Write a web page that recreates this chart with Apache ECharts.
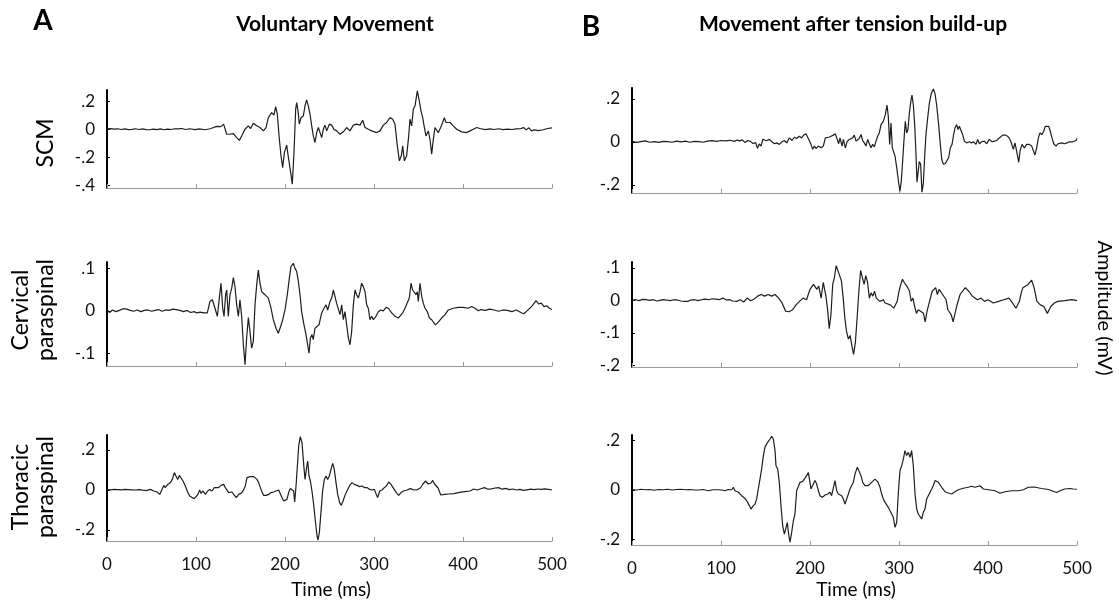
<!DOCTYPE html>
<html>
<head>
<meta charset="utf-8">
<script src="https://cdn.jsdelivr.net/npm/echarts@6/dist/echarts.min.js"></script>
<style>
html,body{margin:0;padding:0;background:#fff;}
#chart{width:1119px;height:606px;}
</style>
</head>
<body>
<div id="chart"></div>
<script>
// ---- data (time in ms, amplitude in mV) ----
const timeTicks = [0, 100, 200, 300, 400, 500];
const panelLetters = ['A', 'B'];
const panelTitles = ['Voluntary Movement', 'Movement after tension build-up'];
const rowNames = ['SCM', 'Cervical\nparaspinal', 'Thoracic\nparaspinal'];
const yTickValuesA = [[0.2, 0, -0.2, -0.4], [0.1, 0, -0.1], [0.2, 0, -0.2]];
const yTickValuesB = [[0.2, 0, -0.2], [0.1, 0, -0.1, -0.2], [0.2, 0, -0.2]];
const xName = 'Time (ms)';
const yName = 'Amplitude (mV)';

const scmVoluntary = [[0,0.002],[4,0.004],[8,0],[12,0.003],[16,-0.002],[20,0.002],[24,-0.003],[28,-0.001],[32,0.003],[36,-0.002],[40,0.002],[44,-0.003],[48,-0.004],[52,0.001],[56,-0.003],[60,0.002],[64,-0.004],[68,0.001],[72,-0.002],[76,0.003],[80,0.002],[84,0.005],[88,-0.002],[93,0.003],[99,-0.003],[104,0.002],[110,-0.004],[116,0.003],[118,0.012],[123,0.02],[128,0.018],[131,0.036],[134.5,-0.036],[138,-0.036],[142,-0.031],[145.7,-0.06],[148.7,-0.08],[151.3,-0.048],[155,0],[158.8,0.024],[161.4,0.005],[164.4,0.043],[168.2,0.024],[171.9,0.012],[175.7,-0.012],[178.7,0.012],[181.3,0.083],[185,0.119],[187.6,0.1],[189.5,0.162],[191.4,0.107],[193.3,-0.048],[195.5,-0.19],[197.4,-0.274],[199.3,-0.167],[201.9,-0.114],[204.1,-0.214],[206.4,-0.31],[208.2,-0.393],[210.1,-0.167],[212,0.143],[213.1,0.19],[214.6,0.131],[216.1,0.036],[218,0.083],[220.6,0.095],[222.5,0.167],[224.3,0.209],[226.2,0.167],[228.1,0.107],[230,0.024],[231.8,-0.048],[233.7,-0.095],[235.6,-0.024],[237.5,0.012],[239.3,0.024],[241.2,-0.06],[243.1,0],[244.9,0.029],[246.8,-0.012],[249.8,0.036],[252.4,0.029],[255,0],[258,-0.012],[261.8,-0.036],[265.5,-0.019],[269.3,0.012],[273,-0.012],[276.8,0.029],[280.5,0.036],[284.3,0.029],[287.3,0.064],[289.9,0.012],[293.6,0],[297.4,-0.012],[303,-0.024],[306.7,-0.012],[310.5,0.029],[314.2,0.048],[318,0.083],[321,0.071],[323.6,0.036],[326.2,-0.119],[328.5,-0.226],[330.7,-0.19],[332.2,-0.119],[334.1,-0.226],[336.7,-0.19],[339,-0.048],[340.4,0.071],[342.3,0.024],[344.2,0.143],[346.1,0.167],[348.7,0.274],[350.9,0.202],[352.8,0.131],[354.7,0.083],[356.6,0.012],[358.4,-0.048],[361,-0.012],[362.9,-0.071],[364.8,-0.178],[366.7,-0.071],[368.5,0.012],[370.4,0.024],[372.3,-0.024],[374.9,0.012],[377.2,0.048],[379,0.083],[380.9,0.048],[382.8,0.06],[385.4,0.048],[389.1,0.024],[392.9,0],[398.5,-0.019],[404.1,-0.024],[407.9,-0.012],[411.6,0],[415.4,0.012],[419,0.005],[425,-0.003],[430,0.002],[435,-0.002],[440,0.003],[445,-0.003],[450,0.001],[455,-0.002],[460,0.002],[465,0.004],[468,0.012],[471,-0.005],[474,0.01],[477,-0.012],[480,-0.005],[485,-0.01],[490,-0.004],[495,0.005],[500,0.01]];

const cervicalVoluntary = [[0,0.003],[3,-0.004],[6,0.002],[10,-0.002],[14,0.001],[18,0.005],[22,0.004],[26,0.001],[30,-0.001],[34,0.002],[38,-0.002],[42,0.001],[46,0.002],[50,-0.001],[54,0.001],[58,0.003],[62,-0.001],[66,0.002],[70,0.001],[74,0.004],[78,0.003],[82,0.001],[86,-0.002],[90,0.001],[94,-0.004],[98,-0.002],[101,-0.005],[104.5,-0.003],[109,-0.005],[112.7,-0.005],[115.7,0.022],[118.4,0.026],[121.3,0.006],[124,-0.013],[126.2,0.03],[128.1,0.065],[130,0.006],[131.5,-0.013],[133.3,0.038],[134.5,0.049],[136.3,-0.013],[138.2,0.038],[140.1,0.053],[142,0.078],[143.8,0.057],[145.7,0.014],[147.6,-0.013],[149.4,0.026],[151.3,-0.013],[153.2,-0.08],[155.1,-0.127],[156.9,-0.064],[158.8,-0.016],[160.7,-0.049],[162.5,-0.088],[164.4,-0.072],[166.3,0.014],[168.2,0.061],[170,0.096],[171.9,0.065],[173.8,0.045],[175.7,0.049],[177.5,0.038],[179.4,0.034],[181.3,0.03],[183.9,0.01],[186.9,-0.021],[189.9,-0.041],[192.5,-0.053],[195.1,-0.037],[197.4,-0.021],[200,0.002],[202.6,0.038],[204.9,0.077],[206.7,0.104],[209.4,0.112],[211.2,0.1],[213.1,0.093],[215,0.069],[216.9,0.038],[218.7,-0.002],[221.3,-0.033],[223.6,-0.056],[225.1,-0.06],[227,-0.1],[228.5,-0.064],[230.3,-0.056],[231.8,-0.068],[233.7,-0.041],[235.6,-0.045],[238.2,-0.033],[241.2,-0.005],[243.8,0.006],[246.1,0.014],[247.9,0.002],[250.6,0.022],[252.4,0.03],[254.3,0.049],[256.2,0.045],[258,0.018],[259.9,0.014],[261.8,-0.009],[263.7,0.014],[265.5,-0.021],[267.4,-0.002],[269.3,-0.033],[271.2,-0.064],[273,-0.08],[274.9,-0.049],[276.8,0.014],[278.7,0.049],[280.5,0.038],[282.4,0.03],[284.3,0.045],[286.1,0.065],[288,0.057],[289.9,0.045],[291.8,0.014],[293.6,0.006],[295.5,-0.021],[297.4,-0.013],[299.3,-0.021],[302.2,-0.013],[304.9,-0.002],[307.5,0.002],[310.5,0],[313.5,0.008],[316.1,0.006],[319.9,-0.005],[323.6,-0.013],[327.3,-0.017],[329.2,-0.021],[332.2,-0.005],[334.8,0.006],[336.7,0.002],[339.7,0.03],[341.6,0.065],[343.4,0.049],[345.3,0.053],[347.2,0.038],[348.7,0.045],[349.8,0.022],[351.7,0.065],[353.6,0.034],[355.4,0.018],[357.3,0.006],[359.9,-0.002],[362.2,-0.017],[364.8,-0.021],[366.7,-0.025],[368.9,-0.033],[371.2,-0.029],[373.4,-0.025],[376,-0.017],[379.8,-0.009],[383.5,0.002],[389.1,0.006],[394.8,0.008],[400.4,0.008],[406,0.006],[409.7,0.01],[413.5,0.006],[417.2,0],[420,0.003],[425,0.001],[430,0.004],[435,0.002],[440,-0.001],[445,0.002],[450,0.001],[455,-0.002],[460,0.002],[465,-0.004],[468,-0.007],[471,-0.002],[474,0.004],[477,0.01],[480,0.018],[482,0.024],[485,0.016],[488,0.018],[491,0.01],[494,0.012],[497,0.006],[500,0.003]];

const thoracicVoluntary = [[0,0.002],[4,0.001],[8,0.003],[12,0.002],[16,0.001],[20,0.003],[24,0.002],[28,0.001],[32,0],[36,0.002],[40,-0.001],[44,-0.003],[48.7,0.003],[52.5,-0.005],[56.2,-0.01],[59.2,-0.022],[61.8,0.003],[63.7,0.023],[65.5,0.012],[68.2,0.028],[71.2,0.037],[73.4,0.053],[75.7,0.087],[77.5,0.07],[79.4,0.053],[81.3,0.073],[83.5,0.07],[85.4,0.045],[88,0.02],[90.6,-0.01],[92.9,-0.03],[95.5,-0.038],[98.1,-0.043],[100,-0.038],[102.2,-0.022],[104.1,0],[105.6,-0.017],[107.9,-0.005],[110.5,-0.022],[113.1,-0.005],[115.4,0.003],[118,-0.005],[120.6,0.012],[122.8,0.02],[125.5,0.012],[128.1,0.023],[131.1,0.028],[133,0.012],[134.8,0.003],[136.7,-0.013],[138.6,-0.017],[140.4,-0.01],[142.3,-0.022],[145.3,-0.038],[147.9,-0.022],[150.6,-0.017],[152.8,-0.005],[155.4,0.02],[157.3,0.062],[159.2,0.07],[161,0.067],[162.9,0.073],[164.8,0.067],[166.7,0.062],[168.5,0.053],[170.4,0.037],[172.3,0.012],[174.2,-0.01],[176,-0.027],[179,-0.027],[181.6,-0.022],[184.3,-0.013],[187.3,-0.01],[189.9,-0.005],[192.9,0],[194.8,-0.01],[196.6,-0.038],[198.5,-0.055],[200.4,-0.06],[202.2,-0.047],[204.1,-0.013],[206,0.007],[207.9,0.012],[209.7,-0.005],[210.9,-0.06],[212.4,0.02],[213.9,0.12],[215.4,0.22],[217.2,0.267],[219.1,0.237],[221,0.128],[222.5,0.053],[224,0.103],[225.5,0.145],[227,0.07],[228.5,0.045],[230.3,-0.005],[232.2,-0.072],[234.1,-0.155],[236,-0.23],[237.1,-0.25],[238.6,-0.213],[240.4,-0.113],[242.3,-0.005],[244.2,0.053],[246.1,0.07],[247.9,0.053],[249.8,0.07],[251.7,0.103],[253.6,0.133],[255.4,0.103],[257.3,0.037],[259.2,-0.022],[261.4,-0.063],[263.3,-0.077],[265.2,-0.055],[267.8,-0.022],[270.4,0.003],[272.7,0.023],[275.3,0.037],[277.9,0.028],[280.9,0.023],[283.9,0.017],[286.5,0.02],[289.1,0.012],[292.1,0.012],[295.1,0.003],[297.8,0],[300.4,0.003],[302.6,-0.022],[304.1,-0.038],[306.4,-0.005],[309,0],[311.6,0.012],[313.9,0.02],[316.5,0.04],[319.1,0.028],[322.1,0.007],[325.1,-0.013],[327.7,-0.027],[330.3,-0.013],[333.3,-0.005],[337.1,0],[340.8,0.007],[344,0.002],[348,0],[352,0.01],[355,0.03],[358,0.045],[361,0.03],[364,0.035],[366,0.048],[368,0.03],[370,0.04],[372,0.01],[375,-0.025],[379,-0.022],[384,-0.02],[390,-0.018],[396,-0.012],[402,-0.008],[408,-0.005],[412,0.005],[416,0],[420,0.006],[424,0.012],[428,0.004],[432,0.006],[436,0.01],[440,0.012],[444,0.004],[448,0.008],[452,0.002],[456,0.005],[460,0],[464,0.003],[468,-0.002],[472,0.001],[476,0.004],[480,0.002],[484,0.005],[488,0.003],[492,0.006],[496,0.003],[500,0]];

const scmTension = [[0,0.002],[5,-0.003],[10,0.001],[15,0.004],[20,-0.002],[25,0.001],[30,-0.003],[35,0.002],[40,0.001],[45,-0.002],[50,0.003],[55,0],[60,0.003],[65,-0.002],[70,0.002],[75,0.001],[80,-0.002],[85,0.003],[90,0.005],[95,0.002],[100,0.006],[105,0.004],[110,0.007],[115,0.002],[118,0.008],[121,0.004],[124,0.009],[127,-0.004],[130,0.006],[133,0.002],[136,-0.008],[139,-0.004],[141,-0.03],[143,-0.01],[145,-0.02],[147,0.012],[149,0.015],[151,0.005],[154.3,0.011],[157.3,0],[159.9,-0.009],[162.5,-0.005],[165.5,-0.012],[168.5,0],[171.2,0.006],[173.8,-0.005],[176.8,0.018],[179.8,0.006],[182.4,0.021],[185,0.015],[188,0.026],[190.6,0.018],[192.9,0.031],[195.5,0.037],[198.1,0.015],[201.1,-0.012],[203,-0.035],[204.9,-0.02],[206.7,-0.031],[209.4,-0.02],[212.4,-0.028],[215,-0.02],[217.2,0.018],[218.7,0.026],[221,0.021],[223.6,0.026],[226.2,0.031],[228.5,0.037],[230.3,0.015],[232.2,-0.009],[233.7,0.018],[236,-0.02],[237.5,0.011],[239.7,-0.028],[241.6,0],[244.2,0.011],[246.1,0.003],[247.9,0.018],[249.8,0.031],[251.7,0.003],[253.6,-0.005],[255.4,0.015],[257.3,0.034],[259.2,0.006],[261,-0.005],[262.9,-0.02],[264.8,0.011],[266.7,-0.009],[268.5,-0.028],[270.4,-0.012],[272.3,-0.024],[274.2,0.003],[276,0.026],[277.9,0.041],[279.8,0.08],[282.4,0.095],[284.6,0.125],[286.5,0.171],[288,0.118],[289.5,-0.012],[291,0.087],[292.5,-0.028],[294,-0.035],[295.5,-0.066],[297.4,-0.119],[299.3,-0.181],[301.1,-0.23],[302.6,-0.181],[304.1,-0.089],[306,0.034],[307.1,0.095],[308.6,0.041],[310.1,0.057],[311.6,0.133],[313.5,0.194],[314.6,0.217],[316.1,0.171],[317.6,0.08],[319.1,-0.058],[320.2,-0.188],[321.3,-0.196],[322.8,-0.092],[324.3,-0.104],[325.8,-0.234],[327.3,-0.196],[328.8,-0.073],[330.3,0.034],[332.2,0.11],[334.1,0.179],[336.3,0.225],[338.6,0.245],[340.4,0.225],[342.3,0.171],[344.2,0.095],[346.1,0.003],[348,-0.081],[349.8,-0.104],[352.1,-0.101],[353.9,-0.104],[355.8,-0.073],[357.7,-0.028],[359.6,-0.012],[361.4,0.034],[362.9,0.064],[364.8,0.08],[366.3,0.057],[367.8,0.072],[369.7,0.067],[371.5,0.034],[373.4,0.003],[376,-0.005],[379,0],[381.6,-0.005],[383.9,0],[386.5,-0.012],[388.4,0.011],[390.3,-0.009],[392.9,0],[395.9,0.003],[398.5,-0.009],[401.5,0.011],[404.5,0],[407.1,0.003],[409.7,0.006],[412.7,0.018],[416.5,0.031],[420.2,0.031],[423.2,0.021],[425.8,0],[428.5,-0.035],[430.3,-0.005],[432.2,-0.043],[434.5,-0.096],[436,-0.043],[438.2,-0.012],[440.8,-0.028],[443.4,-0.012],[446.4,-0.012],[449.1,-0.02],[451.3,-0.012],[452.8,-0.061],[454.7,-0.028],[456.6,0.018],[458.4,0.041],[460.7,0.034],[462.5,0.049],[464.4,0.072],[466.3,0.08],[468.2,0.072],[470,0.049],[471.9,0.018],[473.8,-0.009],[476.4,-0.02],[478.7,-0.009],[480.9,-0.015],[483.1,-0.005],[485.8,-0.009],[488.8,-0.005],[491.4,0],[495.1,0],[498.9,0.006],[500,0.015]];

const cervicalTension = [[0,0],[4,0.002],[8,-0.001],[12,0.003],[15.7,0.002],[20,0],[24,0.002],[28,-0.002],[31.4,0],[35,0.002],[39,0.001],[43,-0.001],[47.1,0.002],[51,0.001],[55,-0.002],[59,-0.003],[62.7,-0.003],[66,0.001],[70,0.002],[74,-0.001],[78.4,0.002],[82,0.004],[86,0.002],[90,0.005],[94.1,0.004],[98,0.002],[102,0.007],[106,0.001],[109.8,0.002],[113,-0.002],[117.6,-0.003],[121.6,0.002],[125.5,-0.005],[129.4,0.007],[133.3,-0.001],[137.3,0.004],[141.2,0.013],[145.1,0.018],[149,0.013],[152.9,0.018],[156.9,0.013],[160.8,0.018],[164.7,0.007],[168.6,-0.008],[172.5,-0.033],[176.5,-0.035],[180.4,-0.029],[184.3,-0.014],[188.2,-0.003],[192.2,0.007],[196.1,0.002],[200,0.034],[203.9,0.049],[207.8,0.034],[209.8,0.044],[212.5,0.007],[214.9,0.055],[217.6,0.018],[219.6,-0.024],[221.6,-0.087],[223.5,-0.045],[225.5,0.049],[227.5,0.071],[229.4,0.107],[231.4,0.113],[233.3,0.076],[235.3,0.06],[237.3,0.007],[239.2,-0.056],[241.2,-0.098],[243.1,-0.119],[245.1,-0.108],[247.1,-0.14],[249,-0.166],[251,-0.129],[252.9,-0.056],[254.9,0.028],[256.9,0.092],[258.8,0.071],[260.8,0.049],[262.7,0.076],[264.7,0.055],[266.7,0.007],[268.6,0.023],[270.6,0.013],[272.5,0.028],[274.5,0.007],[276.5,0.013],[278.4,-0.003],[282.4,0.002],[284.3,-0.008],[286.3,-0.003],[290.2,-0.014],[294.1,-0.024],[296.1,-0.03],[298,-0.003],[300,0.028],[302,0.049],[303.9,0.065],[305.9,0.055],[307.8,0.06],[309.8,0.039],[311.8,0.028],[313.7,-0.003],[315.7,0.007],[317.6,-0.019],[319.6,-0.04],[321.6,-0.029],[323.5,-0.035],[327.5,-0.04],[329.4,-0.066],[331.4,-0.035],[333.3,-0.014],[337.3,0.028],[341.2,0.039],[343.1,0.018],[345.1,0.034],[349,0.018],[352.9,0.002],[354.9,-0.029],[358.8,-0.045],[360.8,-0.066],[364.7,-0.019],[368.6,0.018],[374.5,0.039],[378.4,0.028],[382.4,0.013],[388.2,0.002],[392.2,0.007],[396.1,-0.003],[400,0.002],[405.9,-0.008],[411.8,-0.003],[417.6,0.002],[423.5,0.007],[427.5,-0.008],[431.4,-0.024],[435.3,-0.003],[437.3,0.023],[439.2,0.039],[441.2,0.034],[445.1,0.049],[449,0.062],[451.8,0.039],[454.9,-0.003],[458.8,-0.014],[462.7,-0.019],[466.7,-0.04],[470.6,-0.019],[474.5,-0.008],[478.4,-0.003],[486.3,-0.001],[494.1,0.002],[500,-0.001]];

const thoracicTension = [[0,0.002],[5,0],[10,0.003],[15,0.001],[20,0.002],[25,-0.001],[30,0.002],[35,0.001],[40,0.003],[45,0],[50,0.002],[55,0.003],[60,0.001],[65,0.002],[70,0],[74.5,0],[80,0.002],[85.8,-0.003],[91,0.001],[97,0.001],[101,0],[104.5,-0.003],[108,0.002],[112,0.001],[113.9,0.011],[115.7,-0.003],[119.5,-0.009],[123.2,-0.023],[127,-0.034],[130,-0.05],[131.8,-0.063],[133.7,-0.077],[135.6,-0.066],[138.2,-0.057],[140.1,-0.036],[141.9,0.004],[143.8,0.044],[145.7,0.085],[147.6,0.139],[149.4,0.172],[151.3,0.186],[153.2,0.193],[155.1,0.206],[156.9,0.217],[158.8,0.206],[160.7,0.159],[161.8,0.098],[163.7,0.085],[165.5,0.031],[167.4,-0.063],[169.3,-0.144],[171.2,-0.178],[173,-0.171],[174.5,-0.131],[176,-0.178],[177.5,-0.211],[179.4,-0.171],[181.3,-0.124],[183.1,-0.097],[185,-0.003],[186.9,0.004],[188.8,0.031],[191.4,0.034],[193.6,0.044],[196.3,0.058],[198.1,0.071],[200,0.031],[201.1,0.004],[203,0.018],[205.6,0.038],[207.5,0.024],[209.4,-0.003],[211.2,-0.023],[213.9,-0.03],[216.9,-0.02],[219.9,-0.016],[222.5,-0.009],[224.3,-0.023],[226.2,-0.016],[228.1,0.038],[230,-0.003],[231.8,-0.016],[233.7,-0.009],[235.6,-0.023],[237.5,-0.036],[239.3,-0.057],[241.2,-0.05],[243.1,-0.016],[244.9,0.004],[246.8,-0.003],[248.7,0.031],[250.6,0.065],[253.2,0.092],[255.4,0.085],[257.3,0.058],[259.2,0.031],[261.8,0.018],[263.7,0.011],[265.5,0.018],[269.3,0.031],[273,0.044],[276,0.034],[278.7,0.011],[280.5,-0.016],[282.4,-0.036],[284.3,-0.05],[286.1,-0.057],[288,-0.07],[289.9,-0.084],[291.8,-0.077],[293.6,-0.11],[295.5,-0.151],[297.4,-0.131],[299.3,-0.009],[301.1,0.078],[303,0.098],[304.9,0.125],[306.7,0.159],[308.6,0.139],[310.5,0.152],[312.4,0.132],[314.2,0.159],[316.1,0.098],[318,-0.016],[319.9,-0.077],[321.7,-0.097],[323.6,-0.09],[325.5,-0.117],[327.3,-0.09],[329.2,-0.077],[331.1,-0.036],[333,-0.03],[336.7,0.004],[338.6,0.018],[340.4,0.038],[342.3,0.042],[344.2,0.031],[347.9,0.011],[351.7,-0.007],[355.4,-0.012],[359.2,-0.016],[362.9,-0.007],[366.7,0.001],[372.3,0.007],[377.9,0.011],[381.6,0.015],[385.4,0.011],[391,0.017],[394.8,0.004],[400.4,0.001],[407.9,-0.003],[413.5,-0.013],[419.1,-0.007],[426.6,-0.003],[434.1,-0.003],[439.7,0.001],[445.3,0.011],[452,0.012],[460,0.006],[468,0.002],[474,-0.006],[477,-0.01],[481,-0.003],[486,0.004],[492,0.006],[496,0.004],[500,0.003]];

// ---- layout ----
const FONT = 'Lato, "Open Sans", sans-serif';
const panels = [
  {grid:{left:107, top:90,  width:445, height:98},  min:-0.42, max:0.28,  ticks:yTickValuesA[0], data:scmVoluntary,      bottom:false},
  {grid:{left:107, top:262, width:445, height:104}, min:-0.13, max:0.115, ticks:yTickValuesA[1], data:cervicalVoluntary, bottom:false},
  {grid:{left:107, top:435, width:445, height:106}, min:-0.255,max:0.275, ticks:yTickValuesA[2], data:thoracicVoluntary, bottom:true},
  {grid:{left:632, top:88,  width:445, height:105}, min:-0.238,max:0.25,  ticks:yTickValuesB[0], data:scmTension,        bottom:false},
  {grid:{left:632, top:262, width:445, height:105}, min:-0.205,max:0.118, ticks:yTickValuesB[1], data:cervicalTension,   bottom:false},
  {grid:{left:632, top:435, width:445, height:110}, min:-0.222,max:0.222, ticks:yTickValuesB[2], data:thoracicTension,   bottom:true}
];

function fmt(v){
  if (Math.abs(v) < 1e-9) return '0';
  const s = String(Math.abs(Math.round(v*10)/10)).replace(/^0/, '');
  return (v < 0 ? '-' : '') + s;
}

function label(x, y, text, font, rot, extra){
  return {type:'text', x:x, y:y, rotation:rot || 0,
    style:Object.assign({text:text, font:font, fill:'#000', textAlign:'center', textVerticalAlign:'middle'}, extra || {})};
}

const option = {
  animation: false,
  backgroundColor: '#ffffff',
  textStyle: {fontFamily: FONT},
  grid: panels.map(p => Object.assign({containLabel:false}, p.grid)),
  xAxis: panels.map((p, i) => ({
    type: 'value', gridIndex: i, min: 0, max: 500, interval: 100,
    axisLine: {show: true, onZero: false, lineStyle: {color: '#9a9a9a', width: 1}},
    axisTick: {show: true, inside: true, length: 4, lineStyle: {color: '#9a9a9a', width: 1}},
    splitLine: {show: false},
    axisLabel: {show: p.bottom, color: '#111', fontSize: 17, margin: 15, fontFamily: FONT,
      formatter: v => timeTicks.indexOf(v) >= 0 ? String(v) : ''}
  })),
  yAxis: panels.map((p, i) => ({
    type: 'value', gridIndex: i, min: p.min, max: p.max,
    axisLine: {show: true, onZero: false, lineStyle: {color: '#000', width: 2}},
    axisTick: {show: true, inside: true, length: 3, customValues: p.ticks, lineStyle: {color: '#000', width: 1}},
    splitLine: {show: false},
    axisLabel: {show: true, color: '#111', fontSize: 17, margin: 12, fontFamily: FONT,
      customValues: p.ticks, formatter: fmt}
  })),
  series: panels.map((p, i) => ({
    type: 'line', xAxisIndex: i, yAxisIndex: i, data: p.data,
    showSymbol: false, symbol: 'none', smooth: false,
    lineStyle: {color: '#1e1e1e', width: 1.2},
    silent: true
  })),
  graphic: [
    label(43, 21, panelLetters[0], 'bold 28px ' + FONT),
    label(591, 27, panelLetters[1], 'bold 28px ' + FONT),
    label(335, 24, panelTitles[0], 'bold 21px ' + FONT),
    label(853, 24, panelTitles[1], 'bold 21px ' + FONT),
    label(46, 143, rowNames[0], '23px ' + FONT, Math.PI/2),
    label(33, 310, rowNames[1], '23px ' + FONT, Math.PI/2, {lineHeight: 25}),
    label(33, 487, rowNames[2], '23px ' + FONT, Math.PI/2, {lineHeight: 25}),
    label(1104, 308, yName, '20px ' + FONT, -Math.PI/2),
    label(331, 590, xName, '19px ' + FONT),
    label(856, 590, xName, '19px ' + FONT)
  ]
};

const chart = echarts.init(document.getElementById('chart'), null, {renderer: 'canvas'});
chart.setOption(option);
</script>
</body>
</html>
